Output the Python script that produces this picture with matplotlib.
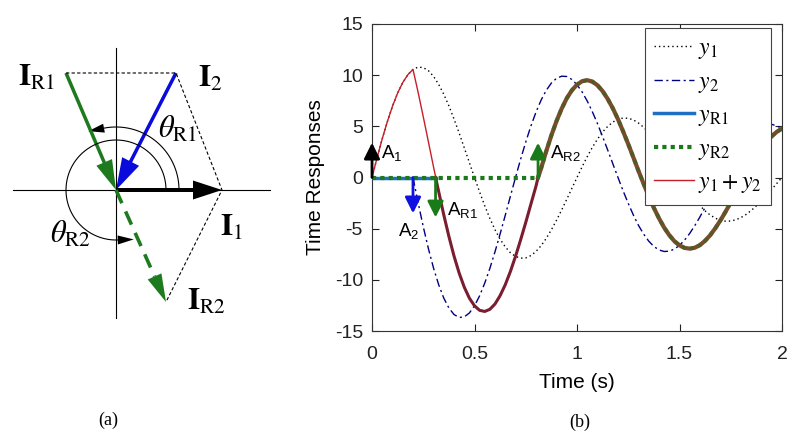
import numpy as np
import matplotlib
matplotlib.use('Agg')
import matplotlib.pyplot as plt

plt.rcParams['font.family'] = ['Liberation Sans', 'DejaVu Sans']
plt.rcParams['mathtext.fontset'] = 'custom'
plt.rcParams['mathtext.rm'] = 'Liberation Sans'
plt.rcParams['mathtext.it'] = 'Liberation Sans:italic'
plt.rcParams['mathtext.bf'] = 'Liberation Sans:bold'
plt.rcParams['axes.unicode_minus'] = False

# ---- panel (b): time responses (every 0.025 s) ----
t = [0.0, 0.025, 0.05, 0.075, 0.1, 0.125, 0.15, 0.175, 0.2, 0.225,
     0.25, 0.275, 0.3, 0.325, 0.35, 0.375, 0.4, 0.425, 0.45, 0.475,
     0.5, 0.525, 0.55, 0.575, 0.6, 0.625, 0.65, 0.675, 0.7, 0.725,
     0.75, 0.775, 0.8, 0.825, 0.85, 0.875, 0.9, 0.925, 0.95, 0.975,
     1.0, 1.025, 1.05, 1.075, 1.1, 1.125, 1.15, 1.175, 1.2, 1.225,
     1.25, 1.275, 1.3, 1.325, 1.35, 1.375, 1.4, 1.425, 1.45, 1.475,
     1.5, 1.525, 1.55, 1.575, 1.6, 1.625, 1.65, 1.675, 1.7, 1.725,
     1.75, 1.775, 1.8, 1.825, 1.85, 1.875, 1.9, 1.925, 1.95, 1.975, 2.0]
y1 = [0, 1.95, 3.79, 5.47, 6.97, 8.25, 9.28, 10.05, 10.56, 10.79,
      10.74, 10.44, 9.89, 9.11, 8.14, 7.00, 5.72, 4.35, 2.91, 1.45,
      0, -1.42, -2.77, -4.00, -5.10, -6.03, -6.78, -7.35, -7.71, -7.88,
      -7.86, -7.63, -7.23, -6.66, -5.95, -5.11, -4.18, -3.18, -2.13, -1.06,
      0, 1.05, 2.04, 2.95, 3.75, 4.45, 5.00, 5.42, 5.69, 5.81,
      5.79, 5.63, 5.32, 4.91, 4.39, 3.77, 3.09, 2.34, 1.57, 0.78,
      0, -0.77, -1.49, -2.17, -2.76, -3.26, -3.67, -3.98, -4.18, -4.27,
      -4.25, -4.13, -3.91, -3.61, -3.22, -2.77, -2.27, -1.72, -1.16, -0.57, 0]
y2 = [0, 0, 0, 0, 0, 0, 0, 0, 0, -2.47,
      -4.80, -6.94, -8.84, -10.46, -11.78, -12.75, -13.39, -13.68, -13.62, -13.24,
      -12.54, -11.56, -10.32, -8.88, -7.26, -5.51, -3.70, -1.84, 0, 1.79,
      3.47, 5.02, 6.39, 7.57, 8.52, 9.23, 9.69, 9.90, 9.87, 9.58,
      9.07, 8.36, 7.47, 6.42, 5.26, 3.99, 2.67, 1.33, 0, -1.31,
      -2.53, -3.67, -4.68, -5.53, -6.22, -6.74, -7.08, -7.23, -7.20, -7.00,
      -6.63, -6.11, -5.46, -4.69, -3.84, -2.92, -1.96, -0.97, 0, 0.94,
      1.82, 2.64, 3.37, 3.98, 4.48, 4.85, 5.10, 5.21, 5.19, 5.04, 4.78]

# impulses (time, amplitude) and switching instants
imp_t = [0.0, 0.2, 0.31, 0.81]
imp_a = [3.4, -3.5, -3.9, 3.4]
imp_lbl = [r'A$_{\mathrm{1}}$', r'A$_{\mathrm{2}}$', r'A$_{\mathrm{R1}}$', r'A$_{\mathrm{R2}}$']
t_R1 = 0.31
t_R2 = 0.81

# ---- panel (a): phasors (x, y) ----
ph_x = [106, 60, -50, 50]      # I1, I2, IR1, IR2
ph_y = [0, 117, 117, -112]

t = np.array(t)
y1 = np.array(y1)
y2 = np.array(y2)
ysum = y1 + y2

fig = plt.figure(figsize=(8, 4.41), dpi=100)

# ================= panel (b) =================
ax = fig.add_axes([372/800, 110/441, 410/800, 307/441])
ax.plot(t, y1, color='k', lw=1, ls=(0, (1, 2.2)), label=r'$y_{1}$')
ax.plot(t[t >= 0.2], y2[t >= 0.2], color='#000080', lw=1,
        ls=(0, (6, 2.5, 1.5, 2.5)), label=r'$y_{2}$')
ax.plot(t, ysum, color='#c81e28', lw=1, zorder=2.5, label=r'$y_{1} + y_{2}$')

# yR1: zero until t_R1, then follows the sum (shows dark maroon on top of red)
ax.plot([0, t_R1], [0, 0], color='#1f6fc5', lw=2.5, zorder=3, label=r'$y_{\mathrm{R1}}$')
m1 = (t > t_R1) & (t < t_R2)
ax.plot(np.r_[t_R1, t[m1], t_R2], np.r_[0, ysum[m1], 0], color='#7a1d30', lw=2.2, zorder=3)
# yR2: zero until t_R2, then follows the sum (brown with green dots)
m2 = t > t_R2
ax.plot(np.r_[t_R2, t[m2]], np.r_[0, ysum[m2]], color='#7c4a2e', lw=3, zorder=3.2)
ax.plot(np.r_[t_R2, t[m2]], np.r_[0, ysum[m2]], color='#2a6a1c', lw=3, alpha=0.5,
        ls=(0, (1, 1)), zorder=3.3)
ax.plot([0, t_R2], [0, 0], color='#1a7a1a', lw=3, ls=(0, (1, 1)), zorder=3.4,
        label=r'$y_{\mathrm{R2}}$')

imp_col = ['k', '#1010e0', '#1a7a1a', '#1a7a1a']
lbl_pos = [(0.045, 1.95), (0.127, -5.7), (0.366, -3.7), (0.868, 1.86)]
for ti, ai, c, lb, p in zip(imp_t, imp_a, imp_col, imp_lbl, lbl_pos):
    ax.annotate('', xy=(ti, ai), xytext=(ti, 0), zorder=5,
                arrowprops=dict(arrowstyle='-|>,head_length=0.6,head_width=0.3',
                                mutation_scale=16, lw=2, color=c,
                                shrinkA=0, shrinkB=0))
    ax.text(p[0], p[1], lb, fontsize=13.5, ha='left', va='baseline', zorder=6)

ax.set_xlim(0, 2)
ax.set_ylim(-15, 15)
ax.set_xticks([0, 0.5, 1, 1.5, 2])
ax.set_xticklabels(['0', '0.5', '1', '1.5', '2'])
ax.set_yticks([-15, -10, -5, 0, 5, 10, 15])
ax.tick_params(direction='in', length=5, width=0.8, top=True, right=True,
               labelsize=14, colors='#222222')
ax.tick_params(axis='x', pad=11)
ax.tick_params(axis='y', pad=6.5)
for s in ax.spines.values():
    s.set_color('#333333')
    s.set_linewidth(0.8)
ax.set_xlabel('Time (s)', fontsize=15)
ax.set_ylabel('Time Responses', fontsize=15)
ax.xaxis.set_label_coords(0.5, -0.137)
ax.yaxis.set_label_coords(-0.115, 0.5)

h, l = ax.get_legend_handles_labels()
order = [l.index(k) for k in [r'$y_{1}$', r'$y_{2}$', r'$y_{\mathrm{R1}}$',
                              r'$y_{\mathrm{R2}}$', r'$y_{1} + y_{2}$']]
leg = ax.legend([h[i] for i in order], [l[i] for i in order], loc='upper right',
                bbox_to_anchor=(0.973, 0.987), borderaxespad=0, fontsize=17,
                handlelength=1.7, handletextpad=0.15, labelspacing=0.4,
                borderpad=0.4, fancybox=False, framealpha=1, edgecolor='#444444')
leg.get_frame().set_linewidth(0.8)
leg.set_zorder(10)
for tx in leg.get_texts():
    tx.set_math_fontfamily('stix')

# ================= panel (a) =================
axa = fig.add_axes([0, 0, 280/800, 1])
axa.set_xlim(-116, 164)
axa.set_ylim(-251, 190)
axa.axis('off')

axa.plot([-103, 154], [0, 0], color='k', lw=0.8)
axa.plot([0, 0], [-128, 142], color='k', lw=0.8)

# construction lines
cx = [ph_x[2], ph_x[1], ph_x[0], ph_x[3]]
cy = [ph_y[2], ph_y[1], ph_y[0], ph_y[3]]
axa.plot(cx, cy, color='k', lw=0.8, ls=(0, (3, 2)))

# angle arcs
r1, a1 = 63, np.radians(np.arange(0, 102, 1))
axa.plot(r1*np.cos(a1), r1*np.sin(a1), color='k', lw=0.8)
r2, a2 = 50, np.radians(np.arange(0, 273, 1))
axa.plot(r2*np.cos(a2), r2*np.sin(a2), color='k', lw=0.8)
for r, a, hl in [(r1, a1[-1], 16), (r2, a2[-1], 16)]:
    bx, by = r*np.cos(a), r*np.sin(a)
    dx, dy = -np.sin(a), np.cos(a)
    axa.arrow(bx, by, dx*hl, dy*hl, width=0, head_width=9, head_length=hl,
              length_includes_head=True, color='k', lw=0)

green = '#1e7a1e'
blue = '#0a0adc'
# IR1 and I2 point into the origin, I1 points out
axa.arrow(ph_x[2], ph_y[2], -ph_x[2], -ph_y[2], width=3.5, head_width=17,
          head_length=30, length_includes_head=True, color=green, lw=0)
axa.arrow(ph_x[1], ph_y[1], -ph_x[1], -ph_y[1], width=3.5, head_width=19,
          head_length=32, length_includes_head=True, color=blue, lw=0)
axa.arrow(0, 0, ph_x[0], ph_y[0], width=4, head_width=19, head_length=29,
          length_includes_head=True, color='k', lw=0)
# IR2 dashed
L = np.hypot(ph_x[3], ph_y[3])
ux, uy = ph_x[3]/L, ph_y[3]/L
axa.plot([0, ph_x[3] - ux*28], [0, ph_y[3] - uy*28], color=green, lw=2.6,
         ls=(0, (4, 2.5)))
axa.arrow(ph_x[3] - ux*28, ph_y[3] - uy*28, ux*28, uy*28, width=0, head_width=15,
          head_length=28, length_includes_head=True, color=green, lw=0)

labels_a = [(-98, 104, r'$\mathbf{I}_{\mathrm{R1}}$'),
            (82, 103, r'$\mathbf{I}_{\mathrm{2}}$'),
            (42, 52, r'$\theta_{\mathrm{R1}}$'),
            (-66, -53, r'$\theta_{\mathrm{R2}}$'),
            (104, -46, r'$\mathbf{I}_{\mathrm{1}}$'),
            (71, -120, r'$\mathbf{I}_{\mathrm{R2}}$')]
for x, y, s in labels_a:
    axa.text(x, y, s, fontsize=22, math_fontfamily='stix', ha='left', va='baseline')

fig.text(108/800, 1 - 420/441, '(a)', ha='center', va='center',
         family='Liberation Serif', fontsize=13)
fig.text(580/800, 1 - 422/441, '(b)', ha='center', va='center',
         family='Liberation Serif', fontsize=13)

fig.savefig('out.png', dpi=100)
